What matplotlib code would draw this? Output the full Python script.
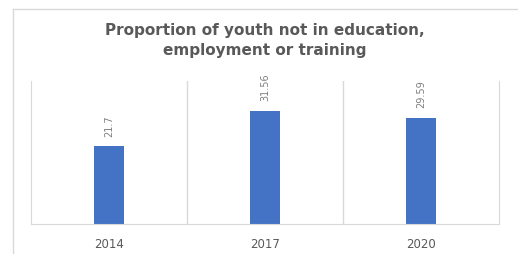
import matplotlib.pyplot as plt
from matplotlib.lines import Line2D

# data
years = ["2014", "2017", "2020"]
values = [21.7, 31.56, 29.59]
labels = ["21.7", "31.56", "29.59"]

fig = plt.figure(figsize=(5.18, 2.54), dpi=100)
W, H = 518, 254

# outer chart border (only left and top are visible)
fig.add_artist(Line2D([13 / W, 13 / W], [0, 1 - 9 / H],
                      transform=fig.transFigure, color="#d9d9d9", linewidth=1))
fig.add_artist(Line2D([13 / W, 1], [1 - 9 / H, 1 - 9 / H],
                      transform=fig.transFigure, color="#d9d9d9", linewidth=1))

ax = fig.add_axes([31 / W, 30 / H, 468 / W, 143 / H])
x = list(range(len(years)))
bars = ax.bar(x, values, width=0.19, color="#4472c4")
ax.bar_label(bars, labels=labels, rotation=90, padding=7,
             fontsize=7, color="#7f7f7f")

ax.set_xlim(-0.5, 2.5)
ax.set_ylim(0, 40)
ax.set_yticks([])
ax.set_xticks(x)
ax.set_xticklabels(years, fontsize=8.5, color="#595959")
ax.tick_params(axis="x", length=0, pad=10)
ax.set_xticks([0.5, 1.5], minor=True)
ax.tick_params(axis="x", which="minor", length=0)
ax.grid(True, which="minor", axis="x", color="#d9d9d9", linewidth=1)

for s in ["left", "right", "bottom"]:
    ax.spines[s].set_color("#d9d9d9")
ax.spines["top"].set_visible(False)

fig.text(265 / W, 1 - 30 / H, "Proportion of youth not in education,",
         ha="center", va="center", fontsize=11, fontweight="bold",
         color="#595959")
fig.text(265 / W, 1 - 50 / H, "employment or training",
         ha="center", va="center", fontsize=11, fontweight="bold",
         color="#595959")

fig.savefig("out.png", dpi=100)
